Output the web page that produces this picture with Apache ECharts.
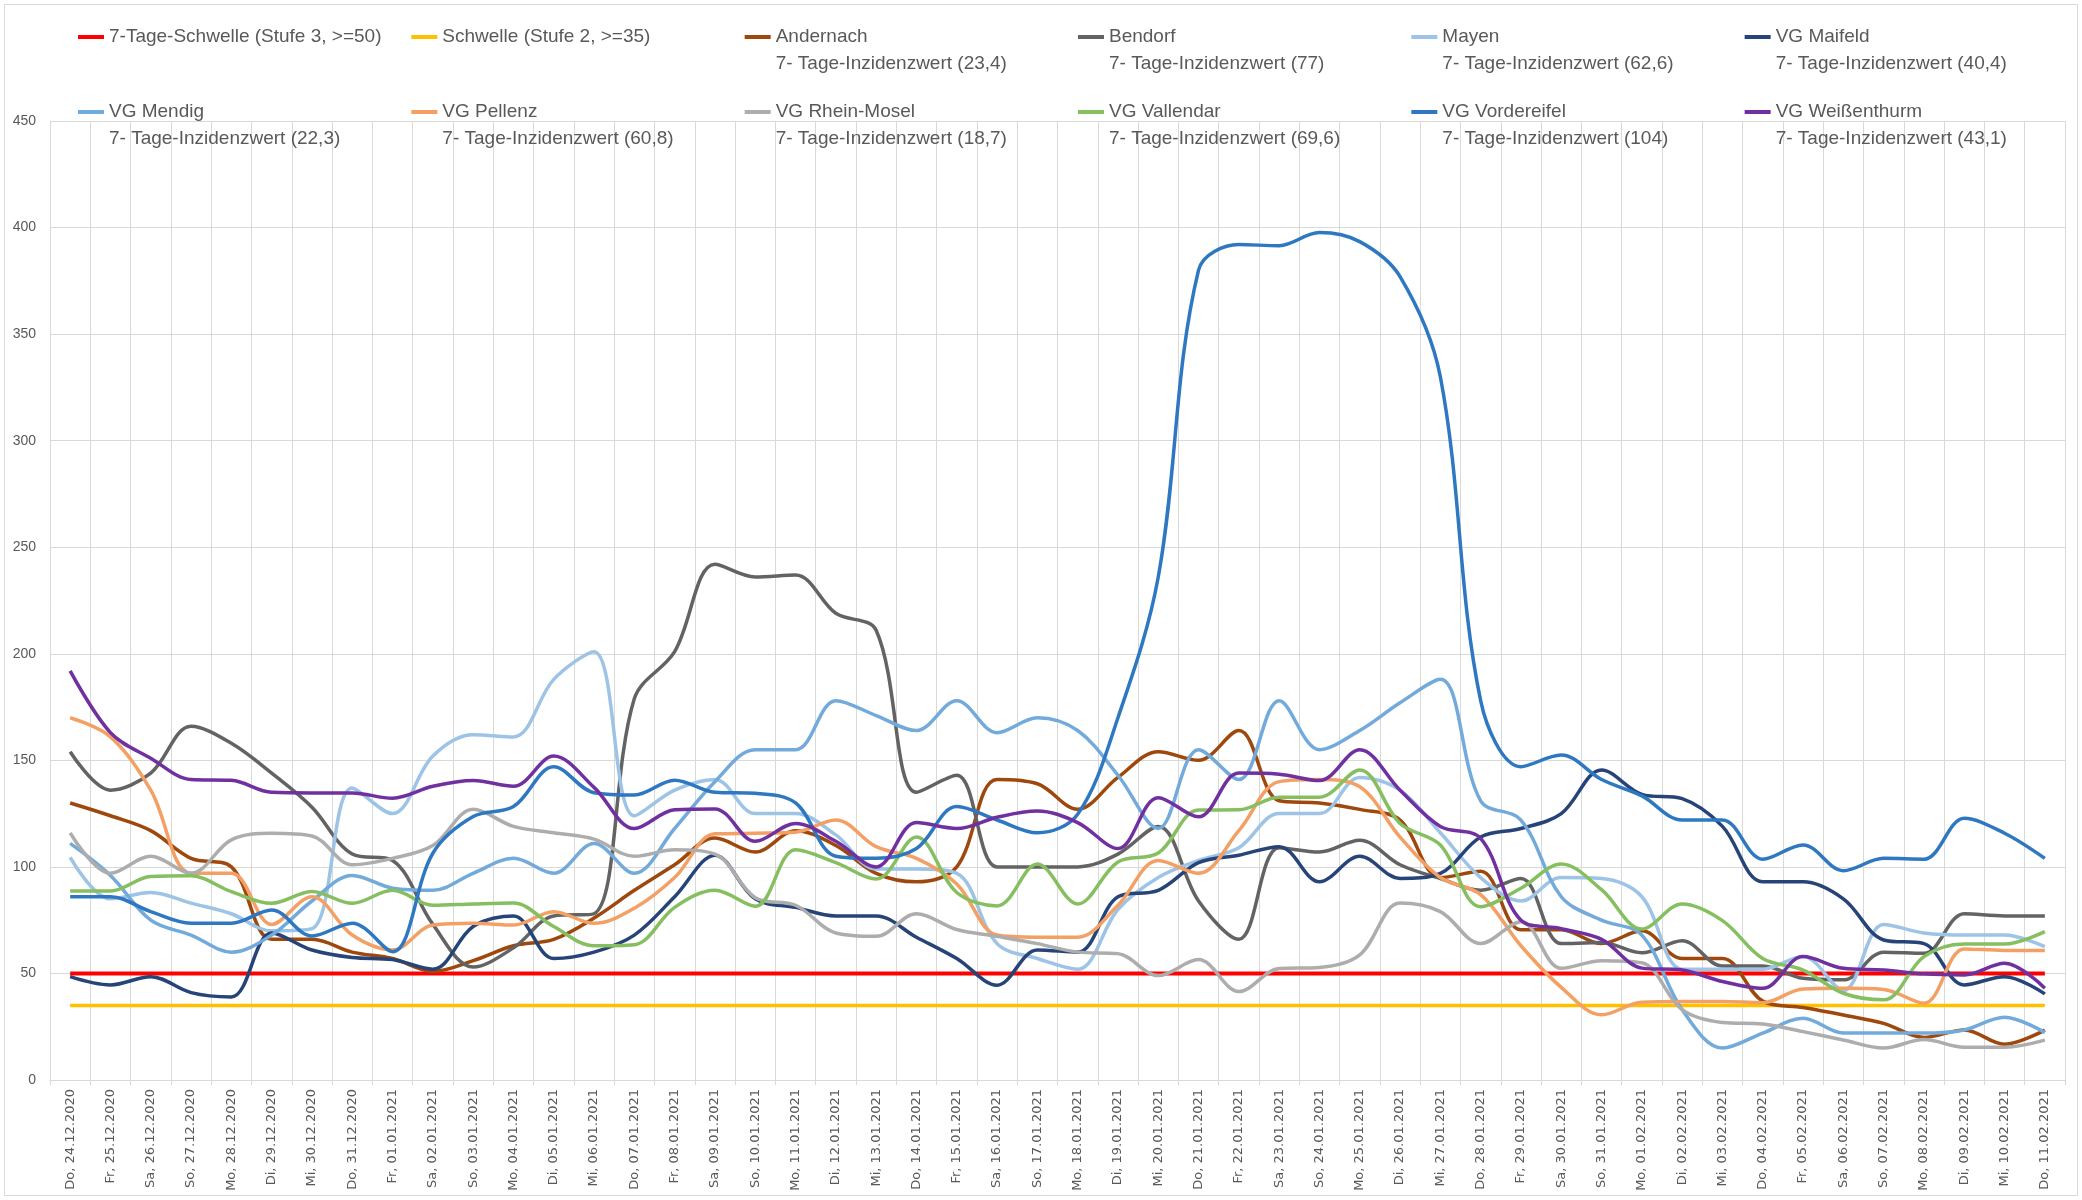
<!DOCTYPE html>
<html>
<head>
<meta charset="utf-8">
<script src="https://cdn.jsdelivr.net/npm/echarts@6/dist/echarts.min.js"></script>
<style>
html,body{margin:0;padding:0;background:#ffffff;}
#chart{width:2082px;height:1200px;}
</style>
</head>
<body>
<div id="chart"></div>
<script>
const categories = ['Do, 24.12.2020','Fr, 25.12.2020','Sa, 26.12.2020','So, 27.12.2020','Mo, 28.12.2020','Di, 29.12.2020','Mi, 30.12.2020','Do, 31.12.2020','Fr, 01.01.2021','Sa, 02.01.2021','So, 03.01.2021','Mo, 04.01.2021','Di, 05.01.2021','Mi, 06.01.2021','Do, 07.01.2021','Fr, 08.01.2021','Sa, 09.01.2021','So, 10.01.2021','Mo, 11.01.2021','Di, 12.01.2021','Mi, 13.01.2021','Do, 14.01.2021','Fr, 15.01.2021','Sa, 16.01.2021','So, 17.01.2021','Mo, 18.01.2021','Di, 19.01.2021','Mi, 20.01.2021','Do, 21.01.2021','Fr, 22.01.2021','Sa, 23.01.2021','So, 24.01.2021','Mo, 25.01.2021','Di, 26.01.2021','Mi, 27.01.2021','Do, 28.01.2021','Fr, 29.01.2021','Sa, 30.01.2021','So, 31.01.2021','Mo, 01.02.2021','Di, 02.02.2021','Mi, 03.02.2021','Do, 04.02.2021','Fr, 05.02.2021','Sa, 06.02.2021','So, 07.02.2021','Mo, 08.02.2021','Di, 09.02.2021','Mi, 10.02.2021','Do, 11.02.2021'];

const yMin = 0, yMax = 450, yStep = 50;

const schwelleStufe3 = [50,50,50,50,50,50,50,50,50,50,50,50,50,50,50,50,50,50,50,50,50,50,50,50,50,50,50,50,50,50,50,50,50,50,50,50,50,50,50,50,50,50,50,50,50,50,50,50,50,50];
const schwelleStufe2 = [35,35,35,35,35,35,35,35,35,35,35,35,35,35,35,35,35,35,35,35,35,35,35,35,35,35,35,35,35,35,35,35,35,35,35,35,35,35,35,35,35,35,35,35,35,35,35,35,35,35];
const andernach = [130,124,117,104,100,66,66,60,57,51,56,63,66,76,89,101,113.5,107,117,110,97,93,100,141,139,127,142,154,150,164,131,130,127,122,95,98,70.5,70.5,64,70,57,57,37,34,30.5,26.6,20,23.5,16.8,23.4];
const bendorf = [154,136,144,166,158,144,128,106,103,73,53,62,77,78,179,201,242,236,237,219,211,135,143,100,100,100,106,119,84,66,109,107,112.5,101,94.5,89,94.5,64,64.5,59.7,65.4,53.5,53.5,47.7,47,60,59.5,78,77,77];
const mayen = [104.5,85,88,83,78,70,71,137,125,152,162,161,188,201,124,136,141,125,125,115,99,99,97,64,57,52,80,95,103,109,125,125,142,136,116,95,84,95,94.5,86,52,52,52,58,42,73,69,68,68,62.6];
const maifeld = [48.5,44.6,48.5,41,39,69,61,57.5,56.5,52,72,77,57,60,68,86,105.5,85,81,77,77,67,57,44.5,61,60,86,89,102,105.5,109.5,93,105,94.6,97,114,118,125,145.5,134,132,119,93,93,85,65.7,64,44.6,48.5,40.4];
const mendig = [111,96,75,68,60,68,84,96,90,89,97,104,97,111,97,118,140,155,155,178,171,164,178,163,170,164,143,118,155,141,178,155,164,177,188,131,122,86,75,68,33,15,22,29,22,22,22,23.5,29.5,22.3];
const pellenz = [170,161,136,97,97,73,86,68,61,72.7,73.5,72.7,79,73.5,80.6,95,115.5,115.8,116.3,122,109.5,104,92,68,67,67,82,103,97,117,140,141,137.6,114,95,87,63,43.5,30.6,36.5,36.8,36.8,36.3,42.7,43,42.5,36,61.5,60.8,60.8];
const rheinMosel = [116,97,105,97,112.7,115.8,114.5,101,104,110,127,119,116,113,105,108,106,85.5,82,69,67.4,78,70.6,67.4,64,60,59.3,49,56.5,41.5,52.3,52.8,58.7,83,79,64,74.3,52.4,56,55,33,27,26.3,22.7,18.8,15,19,15.4,15.4,18.7];
const vallendar = [88.7,88.7,95.5,95.8,88.4,82.9,88.4,82.9,89,82,82.6,83,72,63,63.5,81,89,81.5,108,102,94.3,114,88,81.7,101.4,82.6,102.3,106.5,126.7,126.8,132.7,132.7,145.5,120.4,110.3,81.3,90,101.4,89.3,70.8,82.6,74.8,57,51.6,40.7,37.6,57.9,63.8,63.8,69.6];
const vordereifel = [86,86,79,73.6,73.6,79.8,67.6,73.6,60.2,106.4,123.6,128.3,147,134.8,133.7,140.7,135,134.5,130,105,104,108.6,128.3,122,116,124.7,170,236,380,392,391.5,397.7,393.4,377,330,178,147,152.5,141,133.3,122,122,103.6,110.3,98.2,104,103.6,122.8,115.8,104];
const weissenthurm = [192,163,151,141,140.6,135,134.7,134.7,132.2,137.8,140.5,137.8,152,137.3,118,126.8,127.2,112,120.4,112,100,120.8,118,123.3,126.2,120.8,108.6,132.5,123.5,144,143.5,140.5,155,136,119,113.4,75,71,66,52.5,51.6,46.2,43,57.9,52.4,51.6,49.8,49.3,54.8,43.1];

const seriesNames = [
  '7-Tage-Schwelle (Stufe 3, >=50)',
  'Schwelle (Stufe 2, >=35)',
  'Andernach\n7- Tage-Inzidenzwert (23,4)',
  'Bendorf\n7- Tage-Inzidenzwert (77)',
  'Mayen\n7- Tage-Inzidenzwert (62,6)',
  'VG Maifeld\n7- Tage-Inzidenzwert (40,4)',
  'VG Mendig\n7- Tage-Inzidenzwert (22,3)',
  'VG Pellenz\n7- Tage-Inzidenzwert (60,8)',
  'VG Rhein-Mosel\n7- Tage-Inzidenzwert (18,7)',
  'VG Vallendar\n7- Tage-Inzidenzwert (69,6)',
  'VG Vordereifel\n7- Tage-Inzidenzwert (104)',
  'VG Weißenthurm\n7- Tage-Inzidenzwert (43,1)'
];
const seriesData = [schwelleStufe3, schwelleStufe2, andernach, bendorf, mayen, maifeld, mendig, pellenz, rheinMosel, vallendar, vordereifel, weissenthurm];
const seriesColors = ['#FF0000','#FFC000','#9E480E','#636363','#9DC3E6','#264478','#73AADC','#F4A064','#ADADAD','#86BF60','#2E78C2','#7030A0'];
const seriesWidths = [4,3.5,3.5,3.5,3.5,3.5,3.5,3.5,3.5,3.5,3.5,3.5];

const textColor = '#595959';
const gridColor = '#D9D9D9';
const LH = 27;

const legends = seriesNames.map(function (name, k) {
  const row = Math.floor(k / 6), col = k % 6;
  const twoLines = name.indexOf('\n') >= 0;
  const centerY = 37 + 75 * row;
  return {
    left: 78 + 333.33 * col,
    top: twoLines ? centerY - 1.5 * LH : centerY - LH / 2,
    padding: 0,
    orient: 'horizontal',
    icon: 'rect',
    itemWidth: 26,
    itemHeight: 4,
    selectedMode: false,
    data: [name],
    formatter: function (n) { return twoLines ? '\n' + n : n; },
    textStyle: {
      fontFamily: 'Liberation Sans, Arial, sans-serif',
      fontSize: 19,
      color: textColor,
      lineHeight: LH
    }
  };
});

const series = seriesNames.map(function (name, k) {
  return {
    name: name,
    type: 'line',
    data: seriesData[k],
    smooth: k < 2 ? false : 0.35,
    symbol: 'none',
    showSymbol: false,
    lineStyle: { color: seriesColors[k], width: seriesWidths[k] },
    itemStyle: { color: seriesColors[k] },
    emphasis: { disabled: true },
    z: 2 + k
  };
});

const chart = echarts.init(document.getElementById('chart'), null, { renderer: 'canvas' });
chart.setOption({
  animation: false,
  backgroundColor: '#ffffff',
  graphic: [{
    type: 'rect', silent: true, z: -10,
    shape: { x: 4.5, y: 4.5, width: 2073, height: 1191 },
    style: { fill: 'none', stroke: gridColor, lineWidth: 1 }
  }],
  legend: legends,
  grid: { left: 50, right: 17, top: 121, bottom: 120, containLabel: false, outerBoundsMode: 'none' },
  xAxis: {
    type: 'category',
    data: categories,
    boundaryGap: true,
    axisLine: { show: true, lineStyle: { color: gridColor, width: 1 } },
    axisTick: { show: true, length: 5, lineStyle: { color: gridColor }, alignWithLabel: false, interval: 0 },
    splitLine: { show: true, interval: 0, lineStyle: { color: gridColor, width: 1 } },
    axisLabel: {
      interval: 0, rotate: 90, margin: 9,
      fontFamily: 'DejaVu Sans, Verdana, sans-serif', fontSize: 13, color: textColor,
      hideOverlap: false
    }
  },
  yAxis: {
    type: 'value',
    min: yMin, max: yMax, interval: yStep,
    axisLine: { show: false },
    axisTick: { show: false },
    splitLine: { show: true, lineStyle: { color: gridColor, width: 1 } },
    axisLabel: {
      margin: 14,
      fontFamily: 'Liberation Sans, Arial, sans-serif', fontSize: 14, color: textColor
    }
  },
  series: series
});
</script>
</body>
</html>
